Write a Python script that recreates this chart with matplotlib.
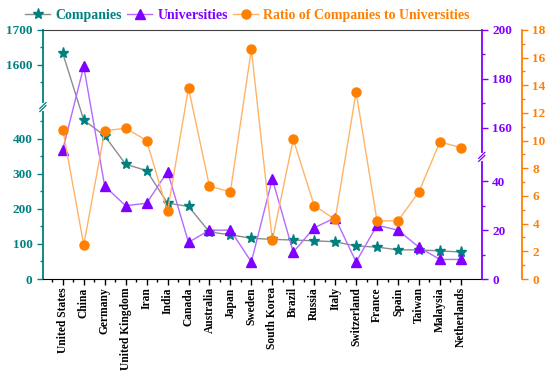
"""Companies vs universities per country, with their ratio, on broken twin y-axes."""

import numpy as np
import matplotlib.pyplot as plt
from matplotlib.ticker import FixedLocator

countries = [
    "United States", "China", "Germany", "United Kingdom", "Iran", "India",
    "Canada", "Australia", "Japan", "Sweden", "South Korea", "Brazil", "Russia",
    "Italy", "Switzerland", "France", "Spain", "Taiwan", "Malaysia", "Netherlands",
]
companies = [1633, 453, 408, 327, 309, 216, 207, 134, 126, 116, 113, 111, 109,
             106, 94, 91, 83, 83, 80, 77]
universities = [151, 185, 38, 30, 31, 44, 15, 20, 20, 7, 41, 11, 21, 25, 7, 22,
                20, 13, 8, 8]
ratio = [10.8, 2.45, 10.7, 10.9, 10.0, 4.9, 13.8, 6.7, 6.3, 16.6, 2.8, 10.1, 5.3,
         4.3, 13.5, 4.2, 4.2, 6.3, 9.9, 9.5]

TEAL = "#008080"
PURPLE = "#8000ff"
ORANGE = "#ff8000"

plt.rcParams["font.family"] = ["Liberation Serif", "DejaVu Serif"]
plt.rcParams["font.weight"] = "bold"


def make_break(lo, hi):
    gap = hi - lo

    def fwd(v):
        v = np.asarray(v, dtype=float)
        return np.where(v <= lo, v, np.where(v >= hi, v - gap, lo))

    def inv(u):
        u = np.asarray(u, dtype=float)
        return np.where(u <= lo, u, u + gap)

    return fwd, inv


def draw_break(ax, xfrac, yfrac, color):
    # white gap in the spine, then two slanted strokes
    ax.plot([xfrac, xfrac], [yfrac - 0.008, yfrac + 0.008], transform=ax.transAxes,
            color="white", lw=3, clip_on=False, zorder=10)
    for dy in (-0.006, 0.006):
        ax.plot([xfrac - 0.007, xfrac + 0.007], [yfrac + dy - 0.012, yfrac + dy + 0.012],
                transform=ax.transAxes, color=color, lw=0.9, clip_on=False, zorder=11)


fig = plt.figure(figsize=(5.5, 3.73), dpi=100)
ax = fig.add_axes([0.078, 0.252, 0.798, 0.668])
ax2 = ax.twinx()
ax3 = ax.twinx()

x = np.arange(len(countries))

c_fwd, c_inv = make_break(490, 1480)
u_fwd, u_inv = make_break(50, 148)

l1, = ax.plot(x, companies, color="#8c8c8c", lw=1, marker="*", ms=8,
              mfc=TEAL, mec=TEAL, label="Companies", zorder=3)
l2, = ax2.plot(x, universities, color="#b36bff", lw=1, marker="^", ms=7,
               mfc=PURPLE, mec=PURPLE, label="Universities", zorder=3)
l3, = ax3.plot(x, ratio, color="#ffb366", lw=1, marker="o", ms=6.5,
               mfc=ORANGE, mec=ORANGE, label="Ratio of Companies to Universities", zorder=3)

ax.set_yscale("function", functions=(c_fwd, c_inv))
ax.set_ylim(0, 1700)
ax.yaxis.set_major_locator(FixedLocator([0, 100, 200, 300, 400, 1600, 1700]))
ax.yaxis.set_minor_locator(FixedLocator([50, 150, 250, 350, 450, 1550, 1650]))

ax2.set_yscale("function", functions=(u_fwd, u_inv))
ax2.set_ylim(0, 200)
ax2.yaxis.set_major_locator(FixedLocator([0, 20, 40, 160, 180, 200]))
ax2.yaxis.set_minor_locator(FixedLocator([10, 30, 170, 190]))

ax3.set_ylim(0, 18)
ax3.yaxis.set_major_locator(FixedLocator(np.arange(0, 19, 2)))
ax3.yaxis.set_minor_locator(FixedLocator(np.arange(1, 18, 2)))
ax3.spines["right"].set_position(("outward", 29))

ax.set_xlim(-0.95, 20.0)
ax.set_xticks(x)
ax.set_xticklabels(countries, rotation=90, fontsize=8.3)
ax.xaxis.set_minor_locator(FixedLocator(x - 0.5))
ax.tick_params(axis="x", which="major", length=4, width=1, pad=2)
ax.tick_params(axis="x", which="minor", length=2.5, width=1)

ax.tick_params(axis="y", which="both", colors=TEAL, labelsize=9.5, width=1)
ax.tick_params(axis="y", which="major", length=4)
ax.tick_params(axis="y", which="minor", length=2.5)
ax2.tick_params(axis="y", which="both", colors=PURPLE, labelsize=9.5, width=1)
ax2.tick_params(axis="y", which="major", length=4)
ax2.tick_params(axis="y", which="minor", length=2.5)
ax3.tick_params(axis="y", which="both", colors=ORANGE, labelsize=9.5, width=1)
ax3.tick_params(axis="y", which="major", length=4)
ax3.tick_params(axis="y", which="minor", length=2.5)

ax.spines["left"].set_color(TEAL)
ax.spines["left"].set_linewidth(1.3)
ax.spines["top"].set_color("#404040")
ax.spines["right"].set_visible(False)
ax2.spines["right"].set_color(PURPLE)
ax2.spines["right"].set_linewidth(1.3)
ax3.spines["right"].set_color(ORANGE)
ax3.spines["right"].set_linewidth(1.3)
for a in (ax2, ax3):
    a.spines["left"].set_visible(False)
    a.spines["top"].set_visible(False)
    a.spines["bottom"].set_visible(False)

draw_break(ax, 0.0, float(c_fwd(490) / c_fwd(1700)), TEAL)
draw_break(ax2, 1.0, float(u_fwd(50) / u_fwd(200)), PURPLE)

leg = fig.legend(handles=[l1, l2, l3], loc="upper center", bbox_to_anchor=(0.45, 1.01),
                 ncol=3, frameon=False, handlelength=1.8, columnspacing=0.4,
                 handletextpad=0.35, prop=dict(size=10, weight="bold"))
for txt, col in zip(leg.get_texts(), [TEAL, PURPLE, ORANGE]):
    txt.set_color(col)

fig.savefig("out.png", dpi=100)
